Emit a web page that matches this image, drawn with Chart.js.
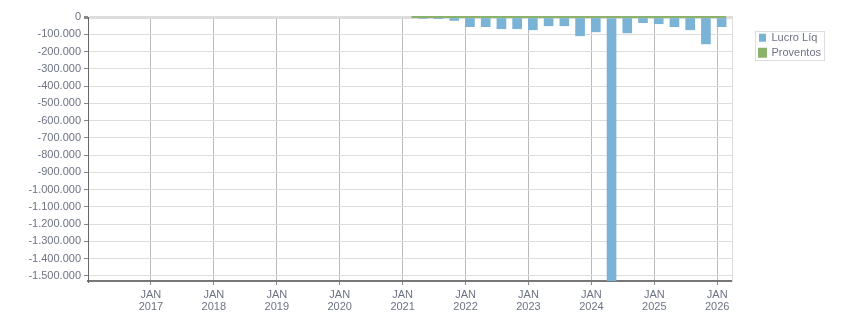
<!DOCTYPE html>
<html lang="pt-BR">
<head>
  <meta charset="UTF-8">
  <script src="https://cdn.jsdelivr.net/npm/chart.js"></script>
  <title>Lucro Líquido trimestral</title>
  <style>
    html, body { margin: 0; padding: 0; background: #fff; }
    .chart-box { width: 851px; height: 313px; }
  </style>
</head>
<body>
<div class="chart-box">
  <canvas id="chart"></canvas>
</div>

<script>
// quarters (year, quarter)
const quarterYears = [2021, 2021, 2021, 2021, 2022, 2022, 2022, 2022, 2023, 2023, 2023, 2023,
                      2024, 2024, 2024, 2024, 2025, 2025, 2025, 2025, 2026];
const quarterNums  = [1, 2, 3, 4, 1, 2, 3, 4, 1, 2, 3, 4, 1, 2, 3, 4, 1, 2, 3, 4, 1];

const lucroLiq = [null, -9000, -3000, -20000, -56000, -56000, -68000, -68000, -74000, -51000, -51000,
                  -109000, -86000, -1530000, -92000, -33000, -39000, -56000, -74000, -156000, -56000];
const proventos = [0, 0, 0, 0, 0, 0, 0, 0, 0, 0, 0, 0, 0, 0, 0, 0, 0, 0, 0, 0, 0];

// axis ticks
const yearTicks = [2017, 2018, 2019, 2020, 2021, 2022, 2023, 2024, 2025, 2026];
const valueTicks = [0, -100000, -200000, -300000, -400000, -500000, -600000, -700000, -800000,
                    -900000, -1000000, -1100000, -1200000, -1300000, -1400000, -1500000];

const firstYear = 2016;
const lastYear = 2026.25;

const textColor = '#6e7384';
const fontFamily = "'Liberation Sans', Arial, sans-serif";

// bar sits at the start of its quarter
function qx(i) {
  return quarterYears[i] + (quarterNums[i] - 1) / 4 + 0.07;
}

const lucroPoints = lucroLiq.map((v, i) => ({ x: qx(i), y: v }));
const provPoints = proventos.map((v, i) => ({ x: qx(i) + 0.07, y: v }));

function fmt(v) {
  return v.toLocaleString('pt-BR');
}

// draws the thin frame round the legend
const legendFrame = {
  id: 'legendFrame',
  afterDraw(chart) {
    const lg = chart.legend;
    if (!lg || !lg.legendHitBoxes.length) return;
    const boxes = lg.legendHitBoxes;
    const first = boxes[0];
    const last = boxes[boxes.length - 1];
    const left = Math.min(...boxes.map(b => b.left)) - 4;
    const right = Math.max(...boxes.map(b => b.left + b.width)) + 3;
    const top = first.top + (first.height - 8) / 2 - 3;
    const bottom = last.top + (last.height + 8) / 2 + 3;
    const ctx = chart.ctx;
    ctx.save();
    ctx.strokeStyle = '#dddddd';
    ctx.lineWidth = 1;
    ctx.strokeRect(Math.round(left) + 0.5, Math.round(top) + 0.5, Math.round(right - left), Math.round(bottom - top));
    ctx.restore();
  }
};

const data = {
  datasets: [{
    type: 'bar',
    label: 'Lucro Líq',
    data: lucroPoints,
    backgroundColor: '#7ab3d6',
    borderWidth: 0,
    barThickness: 9,
    order: 2
  }, {
    type: 'line',
    label: 'Proventos',
    data: provPoints,
    borderColor: '#8bb26c',
    backgroundColor: '#8bb26c',
    borderWidth: 2,
    pointRadius: 0,
    fill: false,
    clip: false,
    order: 1
  }]
};

const config = {
  type: 'bar',
  data: data,
  options: {
    responsive: true,
    maintainAspectRatio: false,
    animation: false,
    layout: {
      padding: { top: 17, right: 20, bottom: 0, left: 4 }
    },
    plugins: {
      legend: {
        position: 'right',
        align: 'start',
        title: { display: true, text: ' ', font: { size: 1 }, padding: { top: 2, bottom: 8 } },
        labels: {
          boxWidth: 7,
          boxHeight: 8,
          padding: 4,
          color: textColor,
          font: { family: fontFamily, size: 11 },
          sort: (a, b) => a.datasetIndex - b.datasetIndex
        }
      },
      tooltip: { enabled: false }
    },
    scales: {
      x: {
        type: 'linear',
        min: firstYear,
        max: lastYear,
        offset: false,
        afterBuildTicks: s => { s.ticks = yearTicks.map(v => ({ value: v })); },
        afterFit: s => { s.height = 32; },
        grid: {
          offset: false,
          color: '#bbbbbb',
          tickColor: '#888888',
          tickLength: 4
        },
        border: { color: '#777777', width: 2 },
        ticks: {
          maxRotation: 0,
          autoSkip: false,
          padding: 4,
          color: textColor,
          font: { family: fontFamily, size: 11, lineHeight: 1.1 },
          callback: v => ['JAN', String(v)]
        }
      },
      y: {
        min: Math.min(...lucroLiq.filter(v => v !== null)),
        max: 0,
        afterBuildTicks: s => { s.ticks = valueTicks.map(v => ({ value: v })); },
        afterFit: s => { s.width = 84; },
        grid: {
          color: '#dddddd',
          lineWidth: ctx => ctx.tick && ctx.tick.value === 0 ? 3 : 1,
          tickColor: '#888888',
          tickLength: 4
        },
        border: { color: '#666666', width: 1 },
        ticks: {
          autoSkip: false,
          padding: 3,
          color: textColor,
          font: { family: fontFamily, size: 11 },
          callback: v => fmt(v)
        }
      },
      // empty axis that only keeps a gap between plot and legend
      gap: {
        type: 'linear',
        position: 'right',
        min: 0,
        max: 1,
        afterFit: s => { s.width = 22; },
        grid: { display: false },
        border: { display: true, color: '#dddddd', width: 1 },
        ticks: { display: false }
      }
    }
  },
  plugins: [legendFrame]
};

const myChart = new Chart(document.getElementById('chart'), config);
</script>
</body>
</html>
